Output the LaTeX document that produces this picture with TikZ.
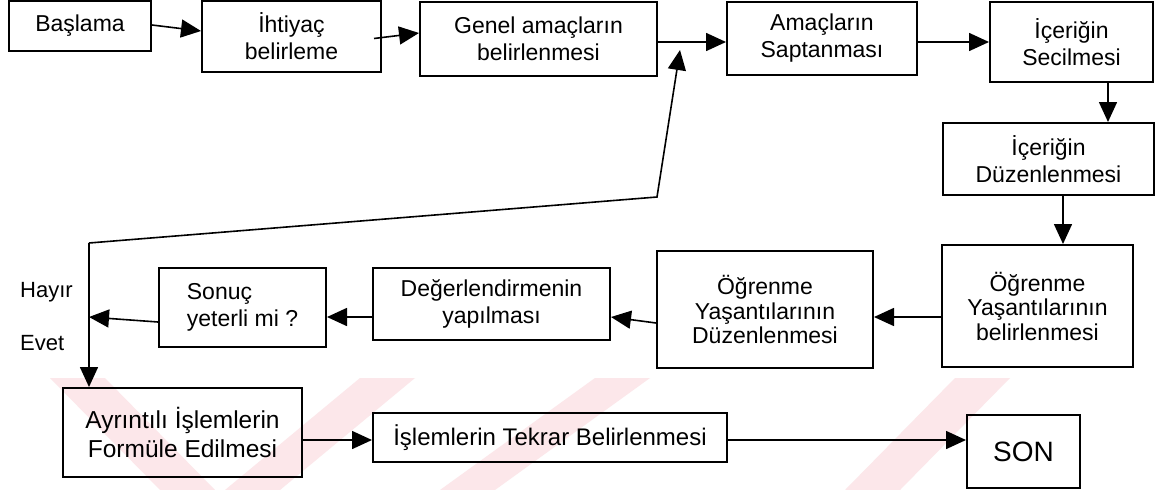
\documentclass[tikz,border=0pt]{standalone}
\usepackage{fontspec}
\setmainfont{Liberation Sans}
\usetikzlibrary{arrows.meta,calc}
\definecolor{wmpink}{RGB}{252,231,234}
\begin{document}
\begin{tikzpicture}[x=1pt,y=-1pt,
  box/.style={draw, line width=2pt, inner sep=0pt, align=center,
    font=\fontsize{23}{27}\selectfont},
  conn/.style={line width=1.6pt, -{Triangle[length=20pt,width=18pt]}},
  lbl/.style={font=\fontsize{22}{26}\selectfont, inner sep=0pt}]
\useasboundingbox (0,0) rectangle (1165,490);
\fill[white] (0,0) rectangle (1165,490);

% faint diagonal stripes along the lower band
\fill[wmpink] (50,378) -- (105,378) -- (215,490) -- (160,490) -- cycle;
\fill[wmpink] (225,490) -- (280,490) -- (415,378) -- (360,378) -- cycle;
\fill[wmpink] (440,490) -- (495,490) -- (650,378) -- (595,378) -- cycle;
\fill[wmpink] (845,490) -- (900,490) -- (1010,378) -- (955,378) -- cycle;

% top row
\node[box, minimum width=142pt, minimum height=50pt] (bas) at (80,26) {Başlama};
\node[box, minimum width=179pt, minimum height=71pt] (iht) at (291.5,36.5) {İhtiyaç\\belirleme};
\node[box, minimum width=237pt, minimum height=74pt] (gen) at (538.5,39) {Genel amaçların\\belirlenmesi};
\node[box, minimum width=190pt, minimum height=73pt] (ama) at (822,38.5) {Amaçların\\Saptanması};
\node[box, minimum width=163pt, minimum height=80pt] (ics) at (1071.5,42) {İçeriğin\\Secilmesi};

% right column
\node[box, minimum width=211pt, minimum height=72pt] (icd) at (1048.5,159) {İçeriğin\\Düzenlenmesi};
\node[box, minimum width=191pt, minimum height=122pt, font=\fontsize{23}{24.5}\selectfont] (oyb) at (1037.5,306) {Öğrenme\\Yaşantılarının\\belirlenmesi};

% middle row
\node[box, minimum width=216pt, minimum height=117pt, font=\fontsize{23}{24.5}\selectfont] (oyd) at (765,309.5) {Öğrenme\\Yaşantılarının\\Düzenlenmesi};
\node[box, minimum width=237pt, minimum height=72pt] (deg) at (491.5,304) {Değerlendirmenin\\yapılması};
\node[box, minimum width=167pt, minimum height=79pt, align=left] (snc) at (242.5,307.5) {Sonuç\\yeterli mi ?};

% bottom row
\node[box, minimum width=239pt, minimum height=89pt, font=\fontsize{24.5}{29}\selectfont] (ayr) at (182.5,432.5) {Ayrıntılı İşlemlerin\\Formüle Edilmesi};
\node[box, minimum width=354pt, minimum height=49pt, font=\fontsize{24}{28}\selectfont] (isl) at (550,437.5) {İşlemlerin Tekrar Belirlenmesi};
\node[box, minimum width=113pt, minimum height=73pt, font=\fontsize{28}{32}\selectfont] (son) at (1023.5,451.5) {SON};

% decision labels
\node[lbl, anchor=base west] (hay) at (20,297) {Hayır};
\node[lbl, anchor=base west] (evt) at (20,350) {Evet};

% helper points of the feedback loop
\coordinate (hub) at (89,317);
\coordinate (loopTop) at (89,243);
\coordinate (bend) at (657,197);
\coordinate (fbTip) at (680,50);

% connectors
\draw[conn] ($(bas.east)+(0,-1)$) -- ($(iht.west)+(0,-5.5)$);
\draw[conn] ($(iht.east)+(-8,2)$) -- ($(gen.west)+(0,-6)$);
\draw[conn] ($(gen.east)+(0,3)$) -- ($(ama.west)+(0,3.5)$);
\draw[conn] ($(ama.east)+(0,3.5)$) -- (ics.west);
\draw[conn] ($(ics.south)+(36.5,0)$) -- ($(icd.north)+(59.5,0)$);
\draw[conn] ($(icd.south)+(14.5,0)$) -- ($(oyb.north)+(25.5,0)$);
\draw[conn] ($(oyb.west)+(0,11)$) -- ($(oyd.east)+(0,7.5)$);
\draw[conn] ($(oyd.west)+(0,13.5)$) -- ($(deg.east)+(0,13)$);
\draw[conn] ($(deg.west)+(0,13)$) -- ($(snc.east)+(0,9.5)$);
\draw[conn] ($(snc.west)+(0,14.5)$) -- (hub);
\draw[conn] (loopTop) -- (bend) -- (fbTip);
\draw[conn] (loopTop) -- (ayr.north -| hub);
\draw[conn] ($(ayr.east)+(0,7.5)$) -- ($(isl.west)+(0,2.5)$);
\draw[conn] ($(isl.east)+(0,2.5)$) -- ($(son.west)+(0,-11.5)$);
\end{tikzpicture}
\end{document}
